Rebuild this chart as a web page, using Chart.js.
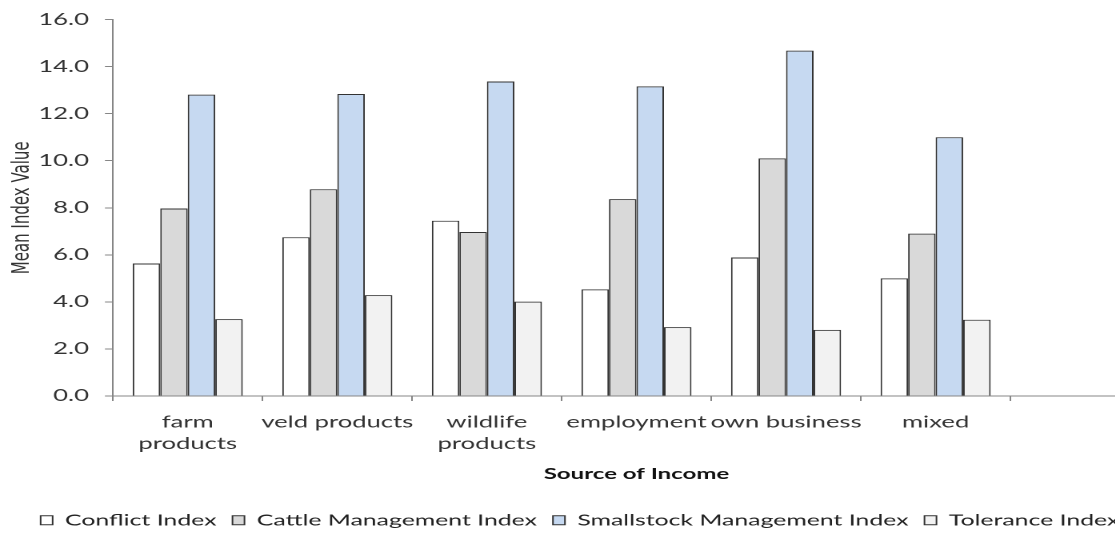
<!DOCTYPE html>
<html lang="en">
<head>
<meta charset="UTF-8">
<title>Mean Index Value by Source of Income</title>
<script src="https://cdn.jsdelivr.net/npm/chart.js"></script>
<style>
  html, body { margin: 0; padding: 0; background: #fff; overflow: hidden; }
  /* the reference is a horizontally stretched Excel chart, so stretch the canvas the same way */
  #wrap { width: 730px; height: 538px; transform: scaleX(1.6); transform-origin: 0 0; }
</style>
</head>
<body>
<div id="wrap"><canvas id="incomeChart" width="730" height="538"></canvas></div>
<script>
// categories (last slot is empty in the original chart)
var categories = [['farm', 'products'], 'veld products', ['wildlife', 'products'], 'employment', 'own business', 'mixed', ''];

// mean index values per source of income
var conflictIndex    = [5.63, 6.75, 7.45, 4.53, 5.89, 5.00, null];
var cattleIndex      = [7.97, 8.79, 6.97, 8.37, 10.10, 6.90, null];
var smallstockIndex  = [12.81, 12.84, 13.37, 13.16, 14.68, 11.00, null];
var toleranceIndex   = [3.27, 4.29, 4.01, 2.93, 2.81, 3.24, null];

var seriesNames = ['Conflict Index', 'Cattle Management Index', 'Smallstock Management Index', 'Tolerance Index'];
var seriesColors = ['#ffffff', '#d9d9d9', '#c6d9f1', '#f2f2f2'];

var fontFamily = 'Lato, "Open Sans", sans-serif';
var axisColor = '#868686';
var textColor = '#333333';

function makeDataset(i, values) {
    return {
        label: seriesNames[i],
        data: values,
        backgroundColor: seriesColors[i],
        borderColor: '#333333',
        borderWidth: 1,
        barPercentage: 1.0,
        categoryPercentage: 0.736
    };
}

var ctx = document.getElementById('incomeChart').getContext('2d');
var incomeChart = new Chart(ctx, {
    type: 'bar',
    data: {
        labels: categories,
        datasets: [
            makeDataset(0, conflictIndex),
            makeDataset(1, cattleIndex),
            makeDataset(2, smallstockIndex),
            makeDataset(3, toleranceIndex)
        ]
    },
    options: {
        responsive: false,
        animation: false,
        devicePixelRatio: 2,
        layout: {
            padding: { top: 16, right: 5, bottom: 0, left: 0 }
        },
        plugins: {
            tooltip: { enabled: false },
            legend: {
                position: 'bottom',
                labels: {
                    font: { family: fontFamily, size: 15.5 },
                    color: '#222222',
                    boxWidth: 7.5,
                    boxHeight: 9,
                    padding: 10
                }
            }
        },
        scales: {
            x: {
                grid: { display: true, drawOnChartArea: false, drawTicks: true, tickLength: 5, color: axisColor, offset: true },
                border: { color: axisColor, width: 1 },
                ticks: {
                    font: { family: fontFamily, size: 16, lineHeight: 1.35 },
                    color: textColor,
                    padding: 10.5,
                    maxRotation: 0,
                    autoSkip: false
                },
                title: {
                    display: true,
                    text: 'Source of Income',
                    font: { family: fontFamily, size: 15, weight: 'bold' },
                    color: '#111111',
                    padding: { top: 4, bottom: 19.5 }
                },
                afterFit: function(scale) { scale.height = 106.5; }
            },
            y: {
                min: 0,
                max: 16,
                grid: { display: true, drawOnChartArea: false, drawTicks: true, tickLength: 5, color: axisColor },
                border: { color: axisColor, width: 1 },
                ticks: {
                    stepSize: 2,
                    font: { family: fontFamily, size: 16 },
                    color: textColor,
                    padding: 10,
                    callback: function(value) { return value.toFixed(1); }
                },
                title: {
                    display: true,
                    text: 'Mean Index Value',
                    font: { family: '"DejaVu Sans", sans-serif', size: 15 },
                    color: textColor,
                    padding: { top: 5, bottom: 4 }
                },
                afterFit: function(scale) { scale.width = 70.6; }
            }
        }
    }
});
</script>
</body>
</html>
